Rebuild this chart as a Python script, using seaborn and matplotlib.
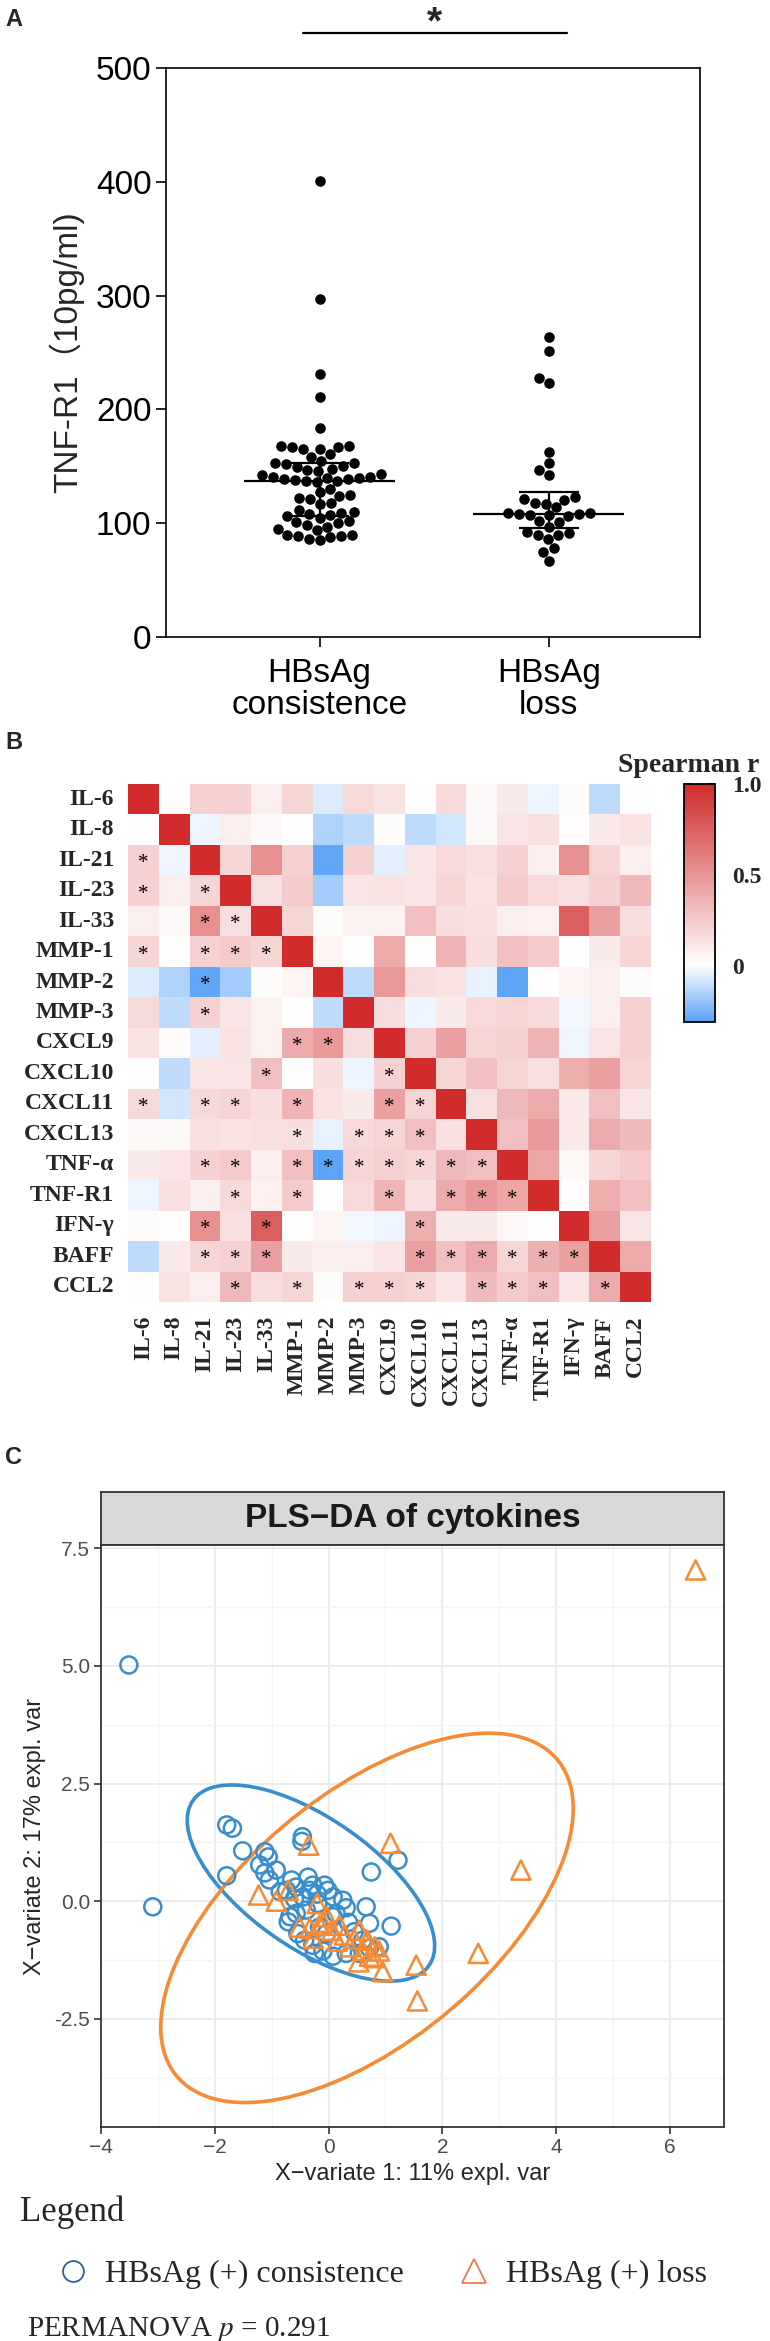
import numpy as np
import pandas as pd
import matplotlib
matplotlib.use('Agg')
import matplotlib.pyplot as plt
from matplotlib.colors import LinearSegmentedColormap
from matplotlib.lines import Line2D
from matplotlib.patches import Ellipse
import seaborn as sns

# ---------------- panel A : TNF-R1 by group ----------------
groups = ['HBsAg\nconsistence', 'HBsAg\nloss']
tnfr1_consistence = [401, 297, 231, 211, 184,
                     168, 168, 167, 167, 165, 165, 161, 158,
                     155, 153, 153, 152, 150, 149, 148, 147, 146,
                     143, 142, 141, 141, 140, 140, 139, 139, 138, 137, 137, 136,
                     130, 127, 125, 124, 122, 121, 118, 117,
                     112, 110, 109, 108, 107, 106, 105,
                     102, 101, 100, 98, 97, 95, 94,
                     90, 90, 89, 89, 88, 86, 85]
tnfr1_loss = [264, 251, 228, 223, 163, 153, 147, 142, 123, 121, 120, 118,
              117, 114, 109, 109, 108, 108, 107, 107, 106, 102, 101, 97,
              92, 91, 90, 90, 86, 78, 75, 67]

# ---------------- panel B : Spearman correlation ----------------
cytokines = ['IL-6', 'IL-8', 'IL-21', 'IL-23', 'IL-33', 'MMP-1', 'MMP-2', 'MMP-3',
             'CXCL9', 'CXCL10', 'CXCL11', 'CXCL13', 'TNF-α', 'TNF-R1', 'IFN-γ',
             'BAFF', 'CCL2']
# lower triangle, row i holds r with columns 0..i-1
rho_lower = [
    [],
    [0.0],
    [0.22, -0.03],
    [0.22, 0.08, 0.20],
    [0.08, 0.03, 0.52, 0.15],
    [0.20, 0.0, 0.22, 0.25, 0.20],
    [-0.06, -0.15, -0.29, -0.17, 0.02, 0.05],
    [0.18, -0.12, 0.22, 0.12, 0.06, 0.0, -0.12],
    [0.14, 0.02, -0.05, 0.14, 0.06, 0.40, 0.48, 0.16],
    [0.0, -0.12, 0.12, 0.12, 0.30, 0.0, 0.16, -0.03, 0.22],
    [0.18, -0.08, 0.18, 0.20, 0.16, 0.35, 0.14, 0.10, 0.45, 0.20],
    [0.03, 0.03, 0.15, 0.14, 0.15, 0.16, -0.04, 0.18, 0.20, 0.30, 0.15],
    [0.10, 0.12, 0.22, 0.25, 0.08, 0.30, -0.30, 0.20, 0.22, 0.20, 0.33, 0.30],
    [-0.03, 0.15, 0.08, 0.18, 0.07, 0.25, 0.01, 0.18, 0.35, 0.15, 0.40, 0.48, 0.42],
    [0.02, 0.01, 0.52, 0.15, 0.75, 0.0, 0.05, -0.02, -0.03, 0.38, 0.10, 0.10, 0.04, 0.01],
    [-0.12, 0.10, 0.20, 0.22, 0.45, 0.10, 0.08, 0.08, 0.12, 0.45, 0.30, 0.40, 0.20, 0.38, 0.45],
    [0.0, 0.14, 0.08, 0.33, 0.16, 0.20, 0.02, 0.22, 0.22, 0.20, 0.12, 0.32, 0.25, 0.30, 0.12, 0.40],
]
signif = [(2, 0), (3, 0), (3, 2), (4, 2), (4, 3), (5, 0), (5, 2), (5, 3), (5, 4),
          (6, 2), (7, 2), (8, 5), (8, 6), (9, 4), (9, 8),
          (10, 0), (10, 2), (10, 3), (10, 5), (10, 8), (10, 9),
          (11, 5), (11, 7), (11, 8), (11, 9),
          (12, 2), (12, 3), (12, 5), (12, 6), (12, 7), (12, 8), (12, 9), (12, 10), (12, 11),
          (13, 3), (13, 5), (13, 8), (13, 10), (13, 11), (13, 12),
          (14, 2), (14, 4), (14, 9),
          (15, 2), (15, 3), (15, 4), (15, 9), (15, 10), (15, 11), (15, 12), (15, 13), (15, 14),
          (16, 3), (16, 5), (16, 7), (16, 8), (16, 9), (16, 11), (16, 12), (16, 13), (16, 15)]

# ---------------- panel C : PLS-DA scores ----------------
consist_x = [-3.51, -3.09, -1.79, -1.69, -1.51, -1.79, -1.12, -1.06, -1.21, -1.12,
             -1.04, -0.92, -0.65, -0.46, -0.47, -0.74, -0.57, -0.36, -0.28, -0.07,
             -0.01, -0.33, -0.45, -0.68, -0.71, -0.57, -0.39, -0.19, 0.08, 0.25,
             0.31, 0.13, 0.75, 1.22, 0.66, 0.72, 1.10, 0.89, -0.28, -0.25,
             -0.10, 0.08, -0.04, -0.16, 0.08, -0.54, -0.42, 0.60, 0.72, 0.54,
             0.31, -0.85, -0.20, 0.35, 0.45, -0.60]
consist_y = [5.02, -0.12, 1.62, 1.55, 1.07, 0.54, 1.05, 0.94, 0.77, 0.60,
             0.45, 0.66, 0.45, 1.37, 1.27, 0.23, 0.30, 0.51, 0.34, 0.34,
             0.23, 0.23, 0.09, -0.33, -0.44, -0.26, -0.19, -0.05, 0.09, 0.02,
             -0.14, -0.26, 0.62, 0.87, -0.12, -0.47, -0.53, -0.97, -0.94, -1.11,
             -1.06, -1.17, -0.69, -0.55, -0.33, -0.69, -0.83, -0.83, -1.00, -1.11,
             -1.11, 0.20, 0.15, -0.45, -0.65, 0.05]
loss_x = [6.45, 3.38, 2.63, 1.56, 1.54, 1.09, 0.95, -0.35, -1.23, -0.92,
          -0.71, -0.20, -0.33, -0.27, -0.03, 0.19, 0.28, 0.54, 0.68, 0.81,
          0.53, 0.72, 0.37, 0.06, -0.51, -0.16, 0.89, 0.45, 0.60, -0.10,
          0.15, 0.80]
loss_y = [7.04, 0.66, -1.11, -2.12, -1.36, 1.23, -1.50, 1.19, 0.13, 0.00,
          0.23, -0.05, -0.58, -0.79, -0.33, -0.51, -0.72, -0.62, -0.83, -0.97,
          -1.29, -1.17, -0.97, -0.62, -0.55, -0.51, -1.06, -0.80, -1.05, -0.45,
          -0.85, -1.20]
ellipse_center = [(-0.31, 0.385), (0.675, -0.355)]
ellipse_cov = [[[4.73, -2.90], [-2.90, 4.35]],
               [[13.14, 8.42], [8.42, 15.41]]]

blue = '#388ECC'
orange = '#F68B33'

sns.set_theme(style='white')
plt.rcParams['font.family'] = ['Liberation Sans', 'Noto Sans CJK SC', 'DejaVu Sans']
plt.rcParams['mathtext.fontset'] = 'stix'

W, H = 770, 2341
fig = plt.figure(figsize=(W / 100, H / 100), dpi=100)
fig.patch.set_facecolor('white')


def px_axes(l, t, r, b):
    return fig.add_axes([l / W, 1 - b / H, (r - l) / W, (b - t) / H])


# ================= A =================
axA = px_axes(166, 68, 700, 637)
dfA = pd.DataFrame({
    'group': [groups[0]] * len(tnfr1_consistence) + [groups[1]] * len(tnfr1_loss),
    'value': tnfr1_consistence + tnfr1_loss,
})
sns.swarmplot(data=dfA, x='group', y='value', order=groups, color='black',
              size=7.6, ax=axA, zorder=2)
for i, vals in enumerate([tnfr1_consistence, tnfr1_loss]):
    q1, med, q3 = np.percentile(vals, [25, 50, 75])
    axA.hlines(med, i - 0.33, i + 0.33, color='black', lw=1.6, zorder=3)
    axA.hlines([q1, q3], i - 0.13, i + 0.13, color='black', lw=1.6, zorder=3)
    axA.vlines(i, q1, q3, color='black', lw=1.6, zorder=3)
axA.set_xlim(-0.67, 1.66)
axA.set_ylim(0, 500)
axA.set_yticks(range(0, 501, 100))
axA.set_xlabel('')
axA.set_ylabel('TNF-R1（10pg/ml)', fontsize=24, labelpad=8)
for s in axA.spines.values():
    s.set_color('black')
    s.set_linewidth(1.2)
axA.tick_params(axis='both', labelsize=24, length=7, width=1.2, color='black',
                direction='out', left=True, bottom=True, labelcolor='black')
axA.tick_params(axis='x', pad=8)
for lab in axA.get_xticklabels():
    lab.set_linespacing(1.05)
axA.plot([-0.074, 1.08], [531, 531], color='black', lw=1.6, clip_on=False)
axA.text(0.5, 530, '*', ha='center', va='baseline', fontsize=28, fontweight='bold',
         clip_on=False)
fig.text(5 / W, 1 - 20 / H, 'A', fontsize=17, fontweight='bold', va='center')

# ================= B =================
n = len(cytokines)
rho = np.eye(n)
for i, row in enumerate(rho_lower):
    for j, v in enumerate(row):
        rho[i, j] = v
        rho[j, i] = v
rho_df = pd.DataFrame(rho, index=cytokines, columns=cytokines)
cmap = LinearSegmentedColormap.from_list(
    'spear', [(0.0, '#5AA2F7'), (0.31 / 1.31, '#FFFFFF'), (1.0, '#D12B2B')])
axB = px_axes(128, 784, 651, 1302)
cax = px_axes(684, 784, 715, 1022)
sns.heatmap(rho_df, cmap=cmap, vmin=-0.31, vmax=1.0, ax=axB, cbar_ax=cax,
            cbar_kws={'ticks': [0, 0.5, 1.0]}, linewidths=0)
for (i, j) in signif:
    axB.text(j + 0.5, i + 0.62, '*', ha='center', va='center', fontsize=15,
             color='black', family='Liberation Serif')
serif_bold = {'family': 'Liberation Serif', 'weight': 'bold', 'size': 17}
axB.set_yticklabels(cytokines, rotation=0, fontdict=serif_bold)
axB.set_xticklabels(cytokines, rotation=90, fontdict=serif_bold)
axB.tick_params(length=0, pad=10)
axB.tick_params(axis='x', pad=10)
cax.set_yticklabels(['0', '0.5', '1.0'], fontdict=serif_bold)
cax.tick_params(direction='in', left=True, right=True, length=5, width=1.2,
                color='black', pad=12)
cbar = axB.collections[0].colorbar
cbar.outline.set_edgecolor('black')
cbar.outline.set_linewidth(1.3)
fig.text(618 / W, 1 - 766 / H, 'Spearman r', fontsize=20, fontweight='bold',
         family='Liberation Serif', va='center')
fig.text(5 / W, 1 - 742 / H, 'B', fontsize=17, fontweight='bold', va='center')

# ================= C =================
fig.text(5 / W, 1 - 1457 / H, 'C', fontsize=17, fontweight='bold', va='center')
strip = px_axes(101, 1492, 724, 1545)
strip.set_facecolor('#D9D9D9')
strip.set_xticks([])
strip.set_yticks([])
for s in strip.spines.values():
    s.set_color('#333333')
    s.set_linewidth(1.3)
strip.text(0.5, 0.5, 'PLS−DA of cytokines', ha='center', va='center',
           fontsize=24, fontweight='bold', color='#1A1A1A', transform=strip.transAxes)

axC = px_axes(101, 1545, 724, 2127)
axC.set_facecolor('white')
for c, cov, col in zip(ellipse_center, ellipse_cov, [blue, orange]):
    vals, vecs = np.linalg.eigh(np.array(cov))
    ang = np.degrees(np.arctan2(vecs[1, 1], vecs[0, 1]))
    axC.add_patch(Ellipse(c, 2 * np.sqrt(vals[1]), 2 * np.sqrt(vals[0]), angle=ang,
                          fill=False, edgecolor=col, lw=2.6, zorder=2))
sns.scatterplot(x=consist_x, y=consist_y, marker='o', s=150, facecolors='none',
                edgecolor=blue, linewidth=1.8, ax=axC, zorder=3)
sns.scatterplot(x=loss_x, y=loss_y, marker='^', s=190, facecolors='none',
                edgecolor=orange, linewidth=1.8, ax=axC, zorder=3)
axC.set_xlim(-4.0, 6.95)
axC.set_ylim(-4.8, 7.57)
axC.set_xticks([-4, -2, 0, 2, 4, 6])
axC.set_xticks([-3, -1, 1, 3, 5], minor=True)
axC.set_yticks([-2.5, 0, 2.5, 5.0, 7.5])
axC.set_yticks([-3.75, -1.25, 1.25, 3.75, 6.25], minor=True)
axC.set_yticklabels(['-2.5', '0.0', '2.5', '5.0', '7.5'])
axC.grid(which='major', color='#EBEBEB', lw=1.3)
axC.grid(which='minor', color='#F4F4F4', lw=0.9)
axC.set_axisbelow(True)
for s in axC.spines.values():
    s.set_color('#333333')
    s.set_linewidth(1.3)
axC.tick_params(which='major', labelsize=15, labelcolor='#4D4D4D', length=5,
                width=1.2, color='#333333', left=True, bottom=True, pad=3)
axC.tick_params(which='minor', length=0)
axC.set_xlabel('X−variate 1: 11% expl. var', fontsize=17, labelpad=4)
axC.set_ylabel('X−variate 2: 17% expl. var', fontsize=17, labelpad=6)

fig.text(20 / W, 1 - 2212 / H, 'Legend', fontsize=25, family='Liberation Serif',
         va='center')
handles = [Line2D([], [], marker='o', ls='none', markersize=15, markerfacecolor='none',
                  markeredgecolor='#2E5BAA', markeredgewidth=1.3),
           Line2D([], [], marker='^', ls='none', markersize=17, markerfacecolor='none',
                  markeredgecolor='#F07850', markeredgewidth=1.3)]
fig.legend(handles, ['HBsAg (+) consistence', 'HBsAg (+) loss'], ncol=2,
           loc='center left', bbox_to_anchor=(25 / W, 1 - 2274 / H), frameon=False,
           prop={'family': 'Liberation Serif', 'size': 23}, handletextpad=0.4,
           columnspacing=1.6, handlelength=1.2)
fig.text(27 / W, 1 - 2329 / H, 'PERMANOVA $p$ = 0.291', fontsize=21,
         family='Liberation Serif', va='center')

fig.savefig('out.png', dpi=100, facecolor='white')
